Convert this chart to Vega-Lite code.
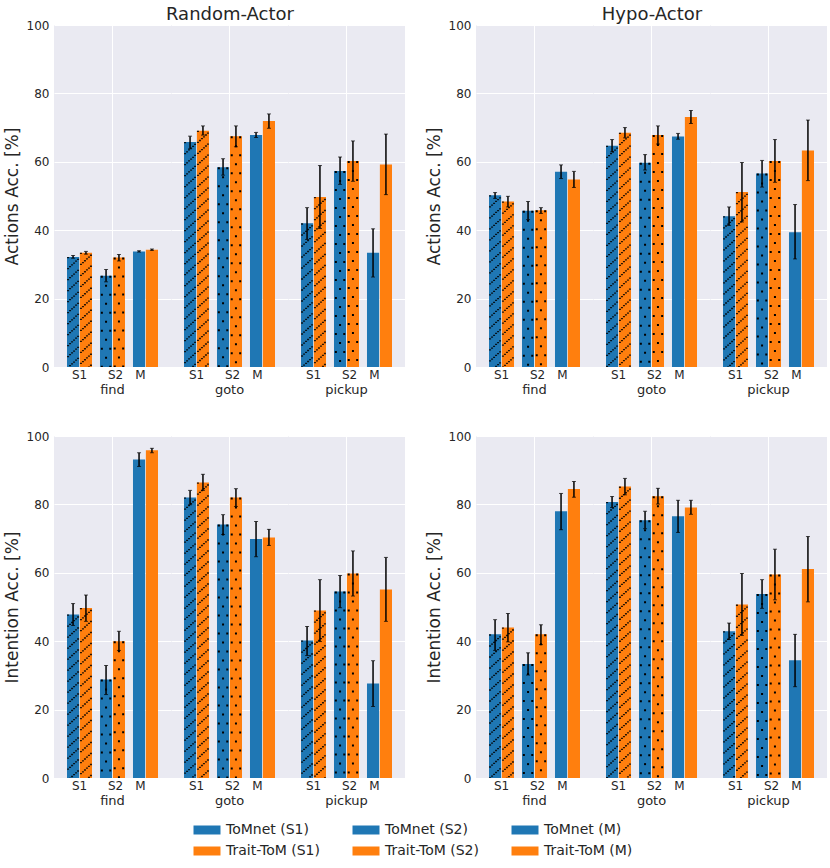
{
  "$schema": "https://vega.github.io/schema/vega-lite/v6.json",
  "padding": {"left": 3, "top": 6, "right": 3, "bottom": 4},
  "background": "white",
  "datasets": {
    "d": [
      {"actor":"Random-Actor","metric":"Actions","task":"find","type":"S1","model":"ToMnet","label":"ToMnet (S1)","v":32.2,"lo":31.8,"hi":32.6},
      {"actor":"Random-Actor","metric":"Actions","task":"find","type":"S1","model":"Trait-ToM","label":"Trait-ToM (S1)","v":33.4,"lo":33.0,"hi":33.8},
      {"actor":"Random-Actor","metric":"Actions","task":"find","type":"S2","model":"ToMnet","label":"ToMnet (S2)","v":26.7,"lo":24.9,"hi":28.5},
      {"actor":"Random-Actor","metric":"Actions","task":"find","type":"S2","model":"Trait-ToM","label":"Trait-ToM (S2)","v":32.0,"lo":31.0,"hi":32.9},
      {"actor":"Random-Actor","metric":"Actions","task":"find","type":"M","model":"ToMnet","label":"ToMnet (M)","v":33.8,"lo":33.6,"hi":34.0},
      {"actor":"Random-Actor","metric":"Actions","task":"find","type":"M","model":"Trait-ToM","label":"Trait-ToM (M)","v":34.3,"lo":34.1,"hi":34.5},
      {"actor":"Random-Actor","metric":"Actions","task":"goto","type":"S1","model":"ToMnet","label":"ToMnet (S1)","v":65.8,"lo":63.8,"hi":67.5},
      {"actor":"Random-Actor","metric":"Actions","task":"goto","type":"S1","model":"Trait-ToM","label":"Trait-ToM (S1)","v":69.1,"lo":67.8,"hi":70.5},
      {"actor":"Random-Actor","metric":"Actions","task":"goto","type":"S2","model":"ToMnet","label":"ToMnet (S2)","v":58.4,"lo":56.1,"hi":60.9},
      {"actor":"Random-Actor","metric":"Actions","task":"goto","type":"S2","model":"Trait-ToM","label":"Trait-ToM (S2)","v":67.5,"lo":64.4,"hi":70.5},
      {"actor":"Random-Actor","metric":"Actions","task":"goto","type":"M","model":"ToMnet","label":"ToMnet (M)","v":67.8,"lo":67.1,"hi":68.6},
      {"actor":"Random-Actor","metric":"Actions","task":"goto","type":"M","model":"Trait-ToM","label":"Trait-ToM (M)","v":71.9,"lo":69.8,"hi":74.0},
      {"actor":"Random-Actor","metric":"Actions","task":"pickup","type":"S1","model":"ToMnet","label":"ToMnet (S1)","v":42.0,"lo":37.3,"hi":46.6},
      {"actor":"Random-Actor","metric":"Actions","task":"pickup","type":"S1","model":"Trait-ToM","label":"Trait-ToM (S1)","v":49.7,"lo":40.5,"hi":58.9},
      {"actor":"Random-Actor","metric":"Actions","task":"pickup","type":"S2","model":"ToMnet","label":"ToMnet (S2)","v":57.3,"lo":53.4,"hi":61.4},
      {"actor":"Random-Actor","metric":"Actions","task":"pickup","type":"S2","model":"Trait-ToM","label":"Trait-ToM (S2)","v":60.2,"lo":54.3,"hi":66.1},
      {"actor":"Random-Actor","metric":"Actions","task":"pickup","type":"M","model":"ToMnet","label":"ToMnet (M)","v":33.4,"lo":26.3,"hi":40.4},
      {"actor":"Random-Actor","metric":"Actions","task":"pickup","type":"M","model":"Trait-ToM","label":"Trait-ToM (M)","v":59.2,"lo":50.4,"hi":68.1},

      {"actor":"Hypo-Actor","metric":"Actions","task":"find","type":"S1","model":"ToMnet","label":"ToMnet (S1)","v":50.2,"lo":49.3,"hi":51.0},
      {"actor":"Hypo-Actor","metric":"Actions","task":"find","type":"S1","model":"Trait-ToM","label":"Trait-ToM (S1)","v":48.4,"lo":46.8,"hi":49.9},
      {"actor":"Hypo-Actor","metric":"Actions","task":"find","type":"S2","model":"ToMnet","label":"ToMnet (S2)","v":45.7,"lo":43.1,"hi":48.4},
      {"actor":"Hypo-Actor","metric":"Actions","task":"find","type":"S2","model":"Trait-ToM","label":"Trait-ToM (S2)","v":45.8,"lo":44.9,"hi":46.6},
      {"actor":"Hypo-Actor","metric":"Actions","task":"find","type":"M","model":"ToMnet","label":"ToMnet (M)","v":57.1,"lo":55.1,"hi":59.1},
      {"actor":"Hypo-Actor","metric":"Actions","task":"find","type":"M","model":"Trait-ToM","label":"Trait-ToM (M)","v":54.8,"lo":52.5,"hi":57.2},
      {"actor":"Hypo-Actor","metric":"Actions","task":"goto","type":"S1","model":"ToMnet","label":"ToMnet (S1)","v":64.7,"lo":62.9,"hi":66.5},
      {"actor":"Hypo-Actor","metric":"Actions","task":"goto","type":"S1","model":"Trait-ToM","label":"Trait-ToM (S1)","v":68.5,"lo":67.0,"hi":70.0},
      {"actor":"Hypo-Actor","metric":"Actions","task":"goto","type":"S2","model":"ToMnet","label":"ToMnet (S2)","v":59.7,"lo":57.6,"hi":62.1},
      {"actor":"Hypo-Actor","metric":"Actions","task":"goto","type":"S2","model":"Trait-ToM","label":"Trait-ToM (S2)","v":67.8,"lo":65.2,"hi":70.5},
      {"actor":"Hypo-Actor","metric":"Actions","task":"goto","type":"M","model":"ToMnet","label":"ToMnet (M)","v":67.4,"lo":66.6,"hi":68.3},
      {"actor":"Hypo-Actor","metric":"Actions","task":"goto","type":"M","model":"Trait-ToM","label":"Trait-ToM (M)","v":73.1,"lo":71.2,"hi":75.0},
      {"actor":"Hypo-Actor","metric":"Actions","task":"pickup","type":"S1","model":"ToMnet","label":"ToMnet (S1)","v":44.1,"lo":41.4,"hi":46.8},
      {"actor":"Hypo-Actor","metric":"Actions","task":"pickup","type":"S1","model":"Trait-ToM","label":"Trait-ToM (S1)","v":51.2,"lo":42.4,"hi":59.8},
      {"actor":"Hypo-Actor","metric":"Actions","task":"pickup","type":"S2","model":"ToMnet","label":"ToMnet (S2)","v":56.6,"lo":52.6,"hi":60.4},
      {"actor":"Hypo-Actor","metric":"Actions","task":"pickup","type":"S2","model":"Trait-ToM","label":"Trait-ToM (S2)","v":60.2,"lo":54.0,"hi":66.5},
      {"actor":"Hypo-Actor","metric":"Actions","task":"pickup","type":"M","model":"ToMnet","label":"ToMnet (M)","v":39.4,"lo":31.6,"hi":47.5},
      {"actor":"Hypo-Actor","metric":"Actions","task":"pickup","type":"M","model":"Trait-ToM","label":"Trait-ToM (M)","v":63.3,"lo":54.5,"hi":72.2},

      {"actor":"Random-Actor","metric":"Intention","task":"find","type":"S1","model":"ToMnet","label":"ToMnet (S1)","v":47.8,"lo":44.6,"hi":51.0},
      {"actor":"Random-Actor","metric":"Intention","task":"find","type":"S1","model":"Trait-ToM","label":"Trait-ToM (S1)","v":49.7,"lo":45.8,"hi":53.5},
      {"actor":"Random-Actor","metric":"Intention","task":"find","type":"S2","model":"ToMnet","label":"ToMnet (S2)","v":28.8,"lo":24.4,"hi":32.9},
      {"actor":"Random-Actor","metric":"Intention","task":"find","type":"S2","model":"Trait-ToM","label":"Trait-ToM (S2)","v":40.0,"lo":37.3,"hi":42.9},
      {"actor":"Random-Actor","metric":"Intention","task":"find","type":"M","model":"ToMnet","label":"ToMnet (M)","v":93.1,"lo":91.1,"hi":95.1},
      {"actor":"Random-Actor","metric":"Intention","task":"find","type":"M","model":"Trait-ToM","label":"Trait-ToM (M)","v":95.8,"lo":95.1,"hi":96.4},
      {"actor":"Random-Actor","metric":"Intention","task":"goto","type":"S1","model":"ToMnet","label":"ToMnet (S1)","v":82.0,"lo":79.9,"hi":84.1},
      {"actor":"Random-Actor","metric":"Intention","task":"goto","type":"S1","model":"Trait-ToM","label":"Trait-ToM (S1)","v":86.4,"lo":84.1,"hi":88.8},
      {"actor":"Random-Actor","metric":"Intention","task":"goto","type":"S2","model":"ToMnet","label":"ToMnet (S2)","v":74.1,"lo":71.2,"hi":77.0},
      {"actor":"Random-Actor","metric":"Intention","task":"goto","type":"S2","model":"Trait-ToM","label":"Trait-ToM (S2)","v":82.0,"lo":79.4,"hi":84.6},
      {"actor":"Random-Actor","metric":"Intention","task":"goto","type":"M","model":"ToMnet","label":"ToMnet (M)","v":69.9,"lo":64.7,"hi":75.0},
      {"actor":"Random-Actor","metric":"Intention","task":"goto","type":"M","model":"Trait-ToM","label":"Trait-ToM (M)","v":70.3,"lo":68.0,"hi":72.7},
      {"actor":"Random-Actor","metric":"Intention","task":"pickup","type":"S1","model":"ToMnet","label":"ToMnet (S1)","v":40.2,"lo":35.8,"hi":44.3},
      {"actor":"Random-Actor","metric":"Intention","task":"pickup","type":"S1","model":"Trait-ToM","label":"Trait-ToM (S1)","v":49.0,"lo":39.9,"hi":58.0},
      {"actor":"Random-Actor","metric":"Intention","task":"pickup","type":"S2","model":"ToMnet","label":"ToMnet (S2)","v":54.5,"lo":49.8,"hi":59.2},
      {"actor":"Random-Actor","metric":"Intention","task":"pickup","type":"S2","model":"Trait-ToM","label":"Trait-ToM (S2)","v":59.8,"lo":53.2,"hi":66.4},
      {"actor":"Random-Actor","metric":"Intention","task":"pickup","type":"M","model":"ToMnet","label":"ToMnet (M)","v":27.6,"lo":20.9,"hi":34.3},
      {"actor":"Random-Actor","metric":"Intention","task":"pickup","type":"M","model":"Trait-ToM","label":"Trait-ToM (M)","v":55.1,"lo":45.8,"hi":64.5},

      {"actor":"Hypo-Actor","metric":"Intention","task":"find","type":"S1","model":"ToMnet","label":"ToMnet (S1)","v":42.0,"lo":37.3,"hi":46.3},
      {"actor":"Hypo-Actor","metric":"Intention","task":"find","type":"S1","model":"Trait-ToM","label":"Trait-ToM (S1)","v":44.0,"lo":39.8,"hi":48.1},
      {"actor":"Hypo-Actor","metric":"Intention","task":"find","type":"S2","model":"ToMnet","label":"ToMnet (S2)","v":33.3,"lo":30.1,"hi":36.6},
      {"actor":"Hypo-Actor","metric":"Intention","task":"find","type":"S2","model":"Trait-ToM","label":"Trait-ToM (S2)","v":42.0,"lo":39.0,"hi":44.8},
      {"actor":"Hypo-Actor","metric":"Intention","task":"find","type":"M","model":"ToMnet","label":"ToMnet (M)","v":78.0,"lo":72.6,"hi":83.2},
      {"actor":"Hypo-Actor","metric":"Intention","task":"find","type":"M","model":"Trait-ToM","label":"Trait-ToM (M)","v":84.5,"lo":82.1,"hi":86.7},
      {"actor":"Hypo-Actor","metric":"Intention","task":"goto","type":"S1","model":"ToMnet","label":"ToMnet (S1)","v":80.7,"lo":79.1,"hi":82.3},
      {"actor":"Hypo-Actor","metric":"Intention","task":"goto","type":"S1","model":"Trait-ToM","label":"Trait-ToM (S1)","v":85.2,"lo":82.8,"hi":87.6},
      {"actor":"Hypo-Actor","metric":"Intention","task":"goto","type":"S2","model":"ToMnet","label":"ToMnet (S2)","v":75.4,"lo":72.9,"hi":78.0},
      {"actor":"Hypo-Actor","metric":"Intention","task":"goto","type":"S2","model":"Trait-ToM","label":"Trait-ToM (S2)","v":82.4,"lo":80.1,"hi":84.7},
      {"actor":"Hypo-Actor","metric":"Intention","task":"goto","type":"M","model":"ToMnet","label":"ToMnet (M)","v":76.5,"lo":71.8,"hi":81.2},
      {"actor":"Hypo-Actor","metric":"Intention","task":"goto","type":"M","model":"Trait-ToM","label":"Trait-ToM (M)","v":79.1,"lo":77.1,"hi":81.2},
      {"actor":"Hypo-Actor","metric":"Intention","task":"pickup","type":"S1","model":"ToMnet","label":"ToMnet (S1)","v":42.9,"lo":40.5,"hi":45.3},
      {"actor":"Hypo-Actor","metric":"Intention","task":"pickup","type":"S1","model":"Trait-ToM","label":"Trait-ToM (S1)","v":50.7,"lo":41.7,"hi":59.8},
      {"actor":"Hypo-Actor","metric":"Intention","task":"pickup","type":"S2","model":"ToMnet","label":"ToMnet (S2)","v":53.8,"lo":49.6,"hi":58.0},
      {"actor":"Hypo-Actor","metric":"Intention","task":"pickup","type":"S2","model":"Trait-ToM","label":"Trait-ToM (S2)","v":59.5,"lo":52.1,"hi":66.9},
      {"actor":"Hypo-Actor","metric":"Intention","task":"pickup","type":"M","model":"ToMnet","label":"ToMnet (M)","v":34.4,"lo":26.7,"hi":42.0},
      {"actor":"Hypo-Actor","metric":"Intention","task":"pickup","type":"M","model":"Trait-ToM","label":"Trait-ToM (M)","v":61.1,"lo":51.5,"hi":70.6}
    ]
  },
  "spacing": 33,
  "vconcat": [
    {
      "spacing": 20,
      "hconcat": [
        {
          "data": {"name": "d"},
          "transform": [{"filter": "datum.actor === 'Random-Actor' && datum.metric === 'Actions'"}],
          "facet": {"column": {"field": "task", "type": "nominal", "sort": ["find", "goto", "pickup"], "header": {"title": "Random-Actor", "titleOrient": "top", "labelOrient": "bottom"}}},
          "spacing": 0,
          "spec": {
            "width": 117, "height": 342,
            "encoding": {
              "x": {"field": "type", "type": "nominal", "scale": {"domain": ["S1", "S2", "M"], "paddingInner": 0.242, "paddingOuter": 0.394}, "axis": {"title": null, "grid": true, "bandPosition": 0.5, "gridOpacity": {"condition": {"test": "datum.value === 'S2'", "value": 1}, "value": 0}, "labelOffset": {"condition": [{"test": "datum.value === 'S2'", "value": 3}, {"test": "datum.value === 'M'", "value": -5}], "value": 0}}},
              "xOffset": {"field": "model", "type": "nominal", "scale": {"domain": ["ToMnet", "Trait-ToM"], "paddingInner": 0.06}}
            },
            "resolve": {"scale": {"xOffset": "independent"}},
            "layer": [
              {"mark": {"type": "bar"}, "encoding": {
                "y": {"field": "v", "type": "quantitative", "scale": {"domain": [0, 100]}, "axis": {"title": "Actions Acc. [%]"}},
                "color": {"field": "label", "type": "nominal", "scale": {"domain": ["ToMnet (S1)", "ToMnet (S2)", "ToMnet (M)", "Trait-ToM (S1)", "Trait-ToM (S2)", "Trait-ToM (M)"], "range": ["#1f77b4", "#1f77b4", "#1f77b4", "#ff7f0e", "#ff7f0e", "#ff7f0e"]}, "legend": {"title": null}}}},
              {"transform": [{"filter": "datum.type === 'S1'"}], "mark": {"type": "rule", "strokeWidth": 2, "strokeDash": [1.3, 9.7], "strokeDashOffset": 0, "color": "#000", "opacity": 0.85}, "encoding": {"xOffset": {"field": "model", "type": "nominal", "scale": {"domain": ["ToMnet", "Trait-ToM"], "paddingInner": 0.96, "paddingOuter": 0.45, "align": 0.069}}, "y": {"field": "v", "type": "quantitative"}, "y2": {"datum": 0}}},
              {"transform": [{"filter": "datum.type === 'S1'"}], "mark": {"type": "rule", "strokeWidth": 2, "strokeDash": [1.3, 9.7], "strokeDashOffset": 1.83, "color": "#000", "opacity": 0.85}, "encoding": {"xOffset": {"field": "model", "type": "nominal", "scale": {"domain": ["ToMnet", "Trait-ToM"], "paddingInner": 0.96, "paddingOuter": 0.45, "align": 0.241}}, "y": {"field": "v", "type": "quantitative"}, "y2": {"datum": 0}}},
              {"transform": [{"filter": "datum.type === 'S1'"}], "mark": {"type": "rule", "strokeWidth": 2, "strokeDash": [1.3, 9.7], "strokeDashOffset": 3.67, "color": "#000", "opacity": 0.85}, "encoding": {"xOffset": {"field": "model", "type": "nominal", "scale": {"domain": ["ToMnet", "Trait-ToM"], "paddingInner": 0.96, "paddingOuter": 0.45, "align": 0.414}}, "y": {"field": "v", "type": "quantitative"}, "y2": {"datum": 0}}},
              {"transform": [{"filter": "datum.type === 'S1'"}], "mark": {"type": "rule", "strokeWidth": 2, "strokeDash": [1.3, 9.7], "strokeDashOffset": 5.5, "color": "#000", "opacity": 0.85}, "encoding": {"xOffset": {"field": "model", "type": "nominal", "scale": {"domain": ["ToMnet", "Trait-ToM"], "paddingInner": 0.96, "paddingOuter": 0.45, "align": 0.586}}, "y": {"field": "v", "type": "quantitative"}, "y2": {"datum": 0}}},
              {"transform": [{"filter": "datum.type === 'S1'"}], "mark": {"type": "rule", "strokeWidth": 2, "strokeDash": [1.3, 9.7], "strokeDashOffset": 7.33, "color": "#000", "opacity": 0.85}, "encoding": {"xOffset": {"field": "model", "type": "nominal", "scale": {"domain": ["ToMnet", "Trait-ToM"], "paddingInner": 0.96, "paddingOuter": 0.45, "align": 0.759}}, "y": {"field": "v", "type": "quantitative"}, "y2": {"datum": 0}}},
              {"transform": [{"filter": "datum.type === 'S1'"}], "mark": {"type": "rule", "strokeWidth": 2, "strokeDash": [1.3, 9.7], "strokeDashOffset": 9.17, "color": "#000", "opacity": 0.85}, "encoding": {"xOffset": {"field": "model", "type": "nominal", "scale": {"domain": ["ToMnet", "Trait-ToM"], "paddingInner": 0.96, "paddingOuter": 0.45, "align": 0.931}}, "y": {"field": "v", "type": "quantitative"}, "y2": {"datum": 0}}},
              {"transform": [{"filter": "datum.type === 'S2'"}], "mark": {"type": "rule", "strokeWidth": 2, "strokeDash": [2, 16], "strokeDashOffset": 0, "color": "#000"}, "encoding": {"xOffset": {"field": "model", "type": "nominal", "scale": {"domain": ["ToMnet", "Trait-ToM"], "paddingInner": 0.96, "paddingOuter": 0.45, "align": 0.138}}, "y": {"field": "v", "type": "quantitative"}, "y2": {"datum": 0}}},
              {"transform": [{"filter": "datum.type === 'S2'"}], "mark": {"type": "rule", "strokeWidth": 2, "strokeDash": [2, 16], "strokeDashOffset": 0, "color": "#000"}, "encoding": {"xOffset": {"field": "model", "type": "nominal", "scale": {"domain": ["ToMnet", "Trait-ToM"], "paddingInner": 0.96, "paddingOuter": 0.45, "align": 0.862}}, "y": {"field": "v", "type": "quantitative"}, "y2": {"datum": 0}}},
              {"transform": [{"filter": "datum.type === 'S2'"}], "mark": {"type": "rule", "strokeWidth": 2, "strokeDash": [2, 16], "strokeDashOffset": 9, "color": "#000"}, "encoding": {"xOffset": {"field": "model", "type": "nominal", "scale": {"domain": ["ToMnet", "Trait-ToM"], "paddingInner": 0.96, "paddingOuter": 0.45, "align": 0.5}}, "y": {"field": "v", "type": "quantitative"}, "y2": {"datum": 0}}},
              {"mark": {"type": "rule", "color": "#000", "strokeWidth": 1.5}, "encoding": {"y": {"field": "lo", "type": "quantitative"}, "y2": {"field": "hi"}}},
              {"mark": {"type": "tick", "orient": "horizontal", "color": "#000", "size": 4, "thickness": 1}, "encoding": {"y": {"field": "lo", "type": "quantitative"}}},
              {"mark": {"type": "tick", "orient": "horizontal", "color": "#000", "size": 4, "thickness": 1}, "encoding": {"y": {"field": "hi", "type": "quantitative"}}}
            ]
          }
        },
        {
          "data": {"name": "d"},
          "transform": [{"filter": "datum.actor === 'Hypo-Actor' && datum.metric === 'Actions'"}],
          "facet": {"column": {"field": "task", "type": "nominal", "sort": ["find", "goto", "pickup"], "header": {"title": "Hypo-Actor", "titleOrient": "top", "labelOrient": "bottom"}}},
          "spacing": 0,
          "spec": {
            "width": 117, "height": 342,
            "encoding": {
              "x": {"field": "type", "type": "nominal", "scale": {"domain": ["S1", "S2", "M"], "paddingInner": 0.242, "paddingOuter": 0.394}, "axis": {"title": null, "grid": true, "bandPosition": 0.5, "gridOpacity": {"condition": {"test": "datum.value === 'S2'", "value": 1}, "value": 0}, "labelOffset": {"condition": [{"test": "datum.value === 'S2'", "value": 3}, {"test": "datum.value === 'M'", "value": -5}], "value": 0}}},
              "xOffset": {"field": "model", "type": "nominal", "scale": {"domain": ["ToMnet", "Trait-ToM"], "paddingInner": 0.06}}
            },
            "resolve": {"scale": {"xOffset": "independent"}},
            "layer": [
              {"mark": {"type": "bar"}, "encoding": {
                "y": {"field": "v", "type": "quantitative", "scale": {"domain": [0, 100]}, "axis": {"title": "Actions Acc. [%]"}},
                "color": {"field": "label", "type": "nominal", "scale": {"domain": ["ToMnet (S1)", "ToMnet (S2)", "ToMnet (M)", "Trait-ToM (S1)", "Trait-ToM (S2)", "Trait-ToM (M)"], "range": ["#1f77b4", "#1f77b4", "#1f77b4", "#ff7f0e", "#ff7f0e", "#ff7f0e"]}, "legend": {"title": null}}}},
              {"transform": [{"filter": "datum.type === 'S1'"}], "mark": {"type": "rule", "strokeWidth": 2, "strokeDash": [1.3, 9.7], "strokeDashOffset": 0, "color": "#000", "opacity": 0.85}, "encoding": {"xOffset": {"field": "model", "type": "nominal", "scale": {"domain": ["ToMnet", "Trait-ToM"], "paddingInner": 0.96, "paddingOuter": 0.45, "align": 0.069}}, "y": {"field": "v", "type": "quantitative"}, "y2": {"datum": 0}}},
              {"transform": [{"filter": "datum.type === 'S1'"}], "mark": {"type": "rule", "strokeWidth": 2, "strokeDash": [1.3, 9.7], "strokeDashOffset": 1.83, "color": "#000", "opacity": 0.85}, "encoding": {"xOffset": {"field": "model", "type": "nominal", "scale": {"domain": ["ToMnet", "Trait-ToM"], "paddingInner": 0.96, "paddingOuter": 0.45, "align": 0.241}}, "y": {"field": "v", "type": "quantitative"}, "y2": {"datum": 0}}},
              {"transform": [{"filter": "datum.type === 'S1'"}], "mark": {"type": "rule", "strokeWidth": 2, "strokeDash": [1.3, 9.7], "strokeDashOffset": 3.67, "color": "#000", "opacity": 0.85}, "encoding": {"xOffset": {"field": "model", "type": "nominal", "scale": {"domain": ["ToMnet", "Trait-ToM"], "paddingInner": 0.96, "paddingOuter": 0.45, "align": 0.414}}, "y": {"field": "v", "type": "quantitative"}, "y2": {"datum": 0}}},
              {"transform": [{"filter": "datum.type === 'S1'"}], "mark": {"type": "rule", "strokeWidth": 2, "strokeDash": [1.3, 9.7], "strokeDashOffset": 5.5, "color": "#000", "opacity": 0.85}, "encoding": {"xOffset": {"field": "model", "type": "nominal", "scale": {"domain": ["ToMnet", "Trait-ToM"], "paddingInner": 0.96, "paddingOuter": 0.45, "align": 0.586}}, "y": {"field": "v", "type": "quantitative"}, "y2": {"datum": 0}}},
              {"transform": [{"filter": "datum.type === 'S1'"}], "mark": {"type": "rule", "strokeWidth": 2, "strokeDash": [1.3, 9.7], "strokeDashOffset": 7.33, "color": "#000", "opacity": 0.85}, "encoding": {"xOffset": {"field": "model", "type": "nominal", "scale": {"domain": ["ToMnet", "Trait-ToM"], "paddingInner": 0.96, "paddingOuter": 0.45, "align": 0.759}}, "y": {"field": "v", "type": "quantitative"}, "y2": {"datum": 0}}},
              {"transform": [{"filter": "datum.type === 'S1'"}], "mark": {"type": "rule", "strokeWidth": 2, "strokeDash": [1.3, 9.7], "strokeDashOffset": 9.17, "color": "#000", "opacity": 0.85}, "encoding": {"xOffset": {"field": "model", "type": "nominal", "scale": {"domain": ["ToMnet", "Trait-ToM"], "paddingInner": 0.96, "paddingOuter": 0.45, "align": 0.931}}, "y": {"field": "v", "type": "quantitative"}, "y2": {"datum": 0}}},
              {"transform": [{"filter": "datum.type === 'S2'"}], "mark": {"type": "rule", "strokeWidth": 2, "strokeDash": [2, 16], "strokeDashOffset": 0, "color": "#000"}, "encoding": {"xOffset": {"field": "model", "type": "nominal", "scale": {"domain": ["ToMnet", "Trait-ToM"], "paddingInner": 0.96, "paddingOuter": 0.45, "align": 0.138}}, "y": {"field": "v", "type": "quantitative"}, "y2": {"datum": 0}}},
              {"transform": [{"filter": "datum.type === 'S2'"}], "mark": {"type": "rule", "strokeWidth": 2, "strokeDash": [2, 16], "strokeDashOffset": 0, "color": "#000"}, "encoding": {"xOffset": {"field": "model", "type": "nominal", "scale": {"domain": ["ToMnet", "Trait-ToM"], "paddingInner": 0.96, "paddingOuter": 0.45, "align": 0.862}}, "y": {"field": "v", "type": "quantitative"}, "y2": {"datum": 0}}},
              {"transform": [{"filter": "datum.type === 'S2'"}], "mark": {"type": "rule", "strokeWidth": 2, "strokeDash": [2, 16], "strokeDashOffset": 9, "color": "#000"}, "encoding": {"xOffset": {"field": "model", "type": "nominal", "scale": {"domain": ["ToMnet", "Trait-ToM"], "paddingInner": 0.96, "paddingOuter": 0.45, "align": 0.5}}, "y": {"field": "v", "type": "quantitative"}, "y2": {"datum": 0}}},
              {"mark": {"type": "rule", "color": "#000", "strokeWidth": 1.5}, "encoding": {"y": {"field": "lo", "type": "quantitative"}, "y2": {"field": "hi"}}},
              {"mark": {"type": "tick", "orient": "horizontal", "color": "#000", "size": 4, "thickness": 1}, "encoding": {"y": {"field": "lo", "type": "quantitative"}}},
              {"mark": {"type": "tick", "orient": "horizontal", "color": "#000", "size": 4, "thickness": 1}, "encoding": {"y": {"field": "hi", "type": "quantitative"}}}
            ]
          }
        }
      ]
    },
    {
      "spacing": 20,
      "hconcat": [
        {
          "data": {"name": "d"},
          "transform": [{"filter": "datum.actor === 'Random-Actor' && datum.metric === 'Intention'"}],
          "facet": {"column": {"field": "task", "type": "nominal", "sort": ["find", "goto", "pickup"], "header": {"title": null, "labelOrient": "bottom"}}},
          "spacing": 0,
          "spec": {
            "width": 117, "height": 342,
            "encoding": {
              "x": {"field": "type", "type": "nominal", "scale": {"domain": ["S1", "S2", "M"], "paddingInner": 0.242, "paddingOuter": 0.394}, "axis": {"title": null, "grid": true, "bandPosition": 0.5, "gridOpacity": {"condition": {"test": "datum.value === 'S2'", "value": 1}, "value": 0}, "labelOffset": {"condition": [{"test": "datum.value === 'S2'", "value": 3}, {"test": "datum.value === 'M'", "value": -5}], "value": 0}}},
              "xOffset": {"field": "model", "type": "nominal", "scale": {"domain": ["ToMnet", "Trait-ToM"], "paddingInner": 0.06}}
            },
            "resolve": {"scale": {"xOffset": "independent"}},
            "layer": [
              {"mark": {"type": "bar"}, "encoding": {
                "y": {"field": "v", "type": "quantitative", "scale": {"domain": [0, 100]}, "axis": {"title": "Intention Acc. [%]"}},
                "color": {"field": "label", "type": "nominal", "scale": {"domain": ["ToMnet (S1)", "ToMnet (S2)", "ToMnet (M)", "Trait-ToM (S1)", "Trait-ToM (S2)", "Trait-ToM (M)"], "range": ["#1f77b4", "#1f77b4", "#1f77b4", "#ff7f0e", "#ff7f0e", "#ff7f0e"]}, "legend": {"title": null}}}},
              {"transform": [{"filter": "datum.type === 'S1'"}], "mark": {"type": "rule", "strokeWidth": 2, "strokeDash": [1.3, 9.7], "strokeDashOffset": 0, "color": "#000", "opacity": 0.85}, "encoding": {"xOffset": {"field": "model", "type": "nominal", "scale": {"domain": ["ToMnet", "Trait-ToM"], "paddingInner": 0.96, "paddingOuter": 0.45, "align": 0.069}}, "y": {"field": "v", "type": "quantitative"}, "y2": {"datum": 0}}},
              {"transform": [{"filter": "datum.type === 'S1'"}], "mark": {"type": "rule", "strokeWidth": 2, "strokeDash": [1.3, 9.7], "strokeDashOffset": 1.83, "color": "#000", "opacity": 0.85}, "encoding": {"xOffset": {"field": "model", "type": "nominal", "scale": {"domain": ["ToMnet", "Trait-ToM"], "paddingInner": 0.96, "paddingOuter": 0.45, "align": 0.241}}, "y": {"field": "v", "type": "quantitative"}, "y2": {"datum": 0}}},
              {"transform": [{"filter": "datum.type === 'S1'"}], "mark": {"type": "rule", "strokeWidth": 2, "strokeDash": [1.3, 9.7], "strokeDashOffset": 3.67, "color": "#000", "opacity": 0.85}, "encoding": {"xOffset": {"field": "model", "type": "nominal", "scale": {"domain": ["ToMnet", "Trait-ToM"], "paddingInner": 0.96, "paddingOuter": 0.45, "align": 0.414}}, "y": {"field": "v", "type": "quantitative"}, "y2": {"datum": 0}}},
              {"transform": [{"filter": "datum.type === 'S1'"}], "mark": {"type": "rule", "strokeWidth": 2, "strokeDash": [1.3, 9.7], "strokeDashOffset": 5.5, "color": "#000", "opacity": 0.85}, "encoding": {"xOffset": {"field": "model", "type": "nominal", "scale": {"domain": ["ToMnet", "Trait-ToM"], "paddingInner": 0.96, "paddingOuter": 0.45, "align": 0.586}}, "y": {"field": "v", "type": "quantitative"}, "y2": {"datum": 0}}},
              {"transform": [{"filter": "datum.type === 'S1'"}], "mark": {"type": "rule", "strokeWidth": 2, "strokeDash": [1.3, 9.7], "strokeDashOffset": 7.33, "color": "#000", "opacity": 0.85}, "encoding": {"xOffset": {"field": "model", "type": "nominal", "scale": {"domain": ["ToMnet", "Trait-ToM"], "paddingInner": 0.96, "paddingOuter": 0.45, "align": 0.759}}, "y": {"field": "v", "type": "quantitative"}, "y2": {"datum": 0}}},
              {"transform": [{"filter": "datum.type === 'S1'"}], "mark": {"type": "rule", "strokeWidth": 2, "strokeDash": [1.3, 9.7], "strokeDashOffset": 9.17, "color": "#000", "opacity": 0.85}, "encoding": {"xOffset": {"field": "model", "type": "nominal", "scale": {"domain": ["ToMnet", "Trait-ToM"], "paddingInner": 0.96, "paddingOuter": 0.45, "align": 0.931}}, "y": {"field": "v", "type": "quantitative"}, "y2": {"datum": 0}}},
              {"transform": [{"filter": "datum.type === 'S2'"}], "mark": {"type": "rule", "strokeWidth": 2, "strokeDash": [2, 16], "strokeDashOffset": 0, "color": "#000"}, "encoding": {"xOffset": {"field": "model", "type": "nominal", "scale": {"domain": ["ToMnet", "Trait-ToM"], "paddingInner": 0.96, "paddingOuter": 0.45, "align": 0.138}}, "y": {"field": "v", "type": "quantitative"}, "y2": {"datum": 0}}},
              {"transform": [{"filter": "datum.type === 'S2'"}], "mark": {"type": "rule", "strokeWidth": 2, "strokeDash": [2, 16], "strokeDashOffset": 0, "color": "#000"}, "encoding": {"xOffset": {"field": "model", "type": "nominal", "scale": {"domain": ["ToMnet", "Trait-ToM"], "paddingInner": 0.96, "paddingOuter": 0.45, "align": 0.862}}, "y": {"field": "v", "type": "quantitative"}, "y2": {"datum": 0}}},
              {"transform": [{"filter": "datum.type === 'S2'"}], "mark": {"type": "rule", "strokeWidth": 2, "strokeDash": [2, 16], "strokeDashOffset": 9, "color": "#000"}, "encoding": {"xOffset": {"field": "model", "type": "nominal", "scale": {"domain": ["ToMnet", "Trait-ToM"], "paddingInner": 0.96, "paddingOuter": 0.45, "align": 0.5}}, "y": {"field": "v", "type": "quantitative"}, "y2": {"datum": 0}}},
              {"mark": {"type": "rule", "color": "#000", "strokeWidth": 1.5}, "encoding": {"y": {"field": "lo", "type": "quantitative"}, "y2": {"field": "hi"}}},
              {"mark": {"type": "tick", "orient": "horizontal", "color": "#000", "size": 4, "thickness": 1}, "encoding": {"y": {"field": "lo", "type": "quantitative"}}},
              {"mark": {"type": "tick", "orient": "horizontal", "color": "#000", "size": 4, "thickness": 1}, "encoding": {"y": {"field": "hi", "type": "quantitative"}}}
            ]
          }
        },
        {
          "data": {"name": "d"},
          "transform": [{"filter": "datum.actor === 'Hypo-Actor' && datum.metric === 'Intention'"}],
          "facet": {"column": {"field": "task", "type": "nominal", "sort": ["find", "goto", "pickup"], "header": {"title": null, "labelOrient": "bottom"}}},
          "spacing": 0,
          "spec": {
            "width": 117, "height": 342,
            "encoding": {
              "x": {"field": "type", "type": "nominal", "scale": {"domain": ["S1", "S2", "M"], "paddingInner": 0.242, "paddingOuter": 0.394}, "axis": {"title": null, "grid": true, "bandPosition": 0.5, "gridOpacity": {"condition": {"test": "datum.value === 'S2'", "value": 1}, "value": 0}, "labelOffset": {"condition": [{"test": "datum.value === 'S2'", "value": 3}, {"test": "datum.value === 'M'", "value": -5}], "value": 0}}},
              "xOffset": {"field": "model", "type": "nominal", "scale": {"domain": ["ToMnet", "Trait-ToM"], "paddingInner": 0.06}}
            },
            "resolve": {"scale": {"xOffset": "independent"}},
            "layer": [
              {"mark": {"type": "bar"}, "encoding": {
                "y": {"field": "v", "type": "quantitative", "scale": {"domain": [0, 100]}, "axis": {"title": "Intention Acc. [%]"}},
                "color": {"field": "label", "type": "nominal", "scale": {"domain": ["ToMnet (S1)", "ToMnet (S2)", "ToMnet (M)", "Trait-ToM (S1)", "Trait-ToM (S2)", "Trait-ToM (M)"], "range": ["#1f77b4", "#1f77b4", "#1f77b4", "#ff7f0e", "#ff7f0e", "#ff7f0e"]}, "legend": {"title": null}}}},
              {"transform": [{"filter": "datum.type === 'S1'"}], "mark": {"type": "rule", "strokeWidth": 2, "strokeDash": [1.3, 9.7], "strokeDashOffset": 0, "color": "#000", "opacity": 0.85}, "encoding": {"xOffset": {"field": "model", "type": "nominal", "scale": {"domain": ["ToMnet", "Trait-ToM"], "paddingInner": 0.96, "paddingOuter": 0.45, "align": 0.069}}, "y": {"field": "v", "type": "quantitative"}, "y2": {"datum": 0}}},
              {"transform": [{"filter": "datum.type === 'S1'"}], "mark": {"type": "rule", "strokeWidth": 2, "strokeDash": [1.3, 9.7], "strokeDashOffset": 1.83, "color": "#000", "opacity": 0.85}, "encoding": {"xOffset": {"field": "model", "type": "nominal", "scale": {"domain": ["ToMnet", "Trait-ToM"], "paddingInner": 0.96, "paddingOuter": 0.45, "align": 0.241}}, "y": {"field": "v", "type": "quantitative"}, "y2": {"datum": 0}}},
              {"transform": [{"filter": "datum.type === 'S1'"}], "mark": {"type": "rule", "strokeWidth": 2, "strokeDash": [1.3, 9.7], "strokeDashOffset": 3.67, "color": "#000", "opacity": 0.85}, "encoding": {"xOffset": {"field": "model", "type": "nominal", "scale": {"domain": ["ToMnet", "Trait-ToM"], "paddingInner": 0.96, "paddingOuter": 0.45, "align": 0.414}}, "y": {"field": "v", "type": "quantitative"}, "y2": {"datum": 0}}},
              {"transform": [{"filter": "datum.type === 'S1'"}], "mark": {"type": "rule", "strokeWidth": 2, "strokeDash": [1.3, 9.7], "strokeDashOffset": 5.5, "color": "#000", "opacity": 0.85}, "encoding": {"xOffset": {"field": "model", "type": "nominal", "scale": {"domain": ["ToMnet", "Trait-ToM"], "paddingInner": 0.96, "paddingOuter": 0.45, "align": 0.586}}, "y": {"field": "v", "type": "quantitative"}, "y2": {"datum": 0}}},
              {"transform": [{"filter": "datum.type === 'S1'"}], "mark": {"type": "rule", "strokeWidth": 2, "strokeDash": [1.3, 9.7], "strokeDashOffset": 7.33, "color": "#000", "opacity": 0.85}, "encoding": {"xOffset": {"field": "model", "type": "nominal", "scale": {"domain": ["ToMnet", "Trait-ToM"], "paddingInner": 0.96, "paddingOuter": 0.45, "align": 0.759}}, "y": {"field": "v", "type": "quantitative"}, "y2": {"datum": 0}}},
              {"transform": [{"filter": "datum.type === 'S1'"}], "mark": {"type": "rule", "strokeWidth": 2, "strokeDash": [1.3, 9.7], "strokeDashOffset": 9.17, "color": "#000", "opacity": 0.85}, "encoding": {"xOffset": {"field": "model", "type": "nominal", "scale": {"domain": ["ToMnet", "Trait-ToM"], "paddingInner": 0.96, "paddingOuter": 0.45, "align": 0.931}}, "y": {"field": "v", "type": "quantitative"}, "y2": {"datum": 0}}},
              {"transform": [{"filter": "datum.type === 'S2'"}], "mark": {"type": "rule", "strokeWidth": 2, "strokeDash": [2, 16], "strokeDashOffset": 0, "color": "#000"}, "encoding": {"xOffset": {"field": "model", "type": "nominal", "scale": {"domain": ["ToMnet", "Trait-ToM"], "paddingInner": 0.96, "paddingOuter": 0.45, "align": 0.138}}, "y": {"field": "v", "type": "quantitative"}, "y2": {"datum": 0}}},
              {"transform": [{"filter": "datum.type === 'S2'"}], "mark": {"type": "rule", "strokeWidth": 2, "strokeDash": [2, 16], "strokeDashOffset": 0, "color": "#000"}, "encoding": {"xOffset": {"field": "model", "type": "nominal", "scale": {"domain": ["ToMnet", "Trait-ToM"], "paddingInner": 0.96, "paddingOuter": 0.45, "align": 0.862}}, "y": {"field": "v", "type": "quantitative"}, "y2": {"datum": 0}}},
              {"transform": [{"filter": "datum.type === 'S2'"}], "mark": {"type": "rule", "strokeWidth": 2, "strokeDash": [2, 16], "strokeDashOffset": 9, "color": "#000"}, "encoding": {"xOffset": {"field": "model", "type": "nominal", "scale": {"domain": ["ToMnet", "Trait-ToM"], "paddingInner": 0.96, "paddingOuter": 0.45, "align": 0.5}}, "y": {"field": "v", "type": "quantitative"}, "y2": {"datum": 0}}},
              {"mark": {"type": "rule", "color": "#000", "strokeWidth": 1.5}, "encoding": {"y": {"field": "lo", "type": "quantitative"}, "y2": {"field": "hi"}}},
              {"mark": {"type": "tick", "orient": "horizontal", "color": "#000", "size": 4, "thickness": 1}, "encoding": {"y": {"field": "lo", "type": "quantitative"}}},
              {"mark": {"type": "tick", "orient": "horizontal", "color": "#000", "size": 4, "thickness": 1}, "encoding": {"y": {"field": "hi", "type": "quantitative"}}}
            ]
          }
        }
      ]
    }
  ],
  "config": {
    "font": "DejaVu Sans",
    "view": {"fill": "#EAEAF2", "stroke": null},
    "axis": {"domain": false, "ticks": false, "labelColor": "#262626", "titleColor": "#262626", "titleFontWeight": "normal", "gridColor": "white", "gridWidth": 1},
    "axisX": {"labelAngle": 0, "labelFontSize": 12, "labelPadding": 1},
    "axisY": {"labelFontSize": 12, "labelPadding": 5, "titleFontSize": 17, "titlePadding": 5, "grid": true, "tickCount": 5},
    "header": {"labelFontSize": 13, "labelColor": "#262626", "labelPadding": 4, "titleFontSize": 18, "titleFontWeight": "normal", "titleColor": "#262626", "titlePadding": -9},
    "legend": {"orient": "none", "legendX": 144, "legendY": 796, "direction": "horizontal", "columns": 3, "symbolType": "M-1.5,-0.5H1.5V0.5H-1.5Z", "symbolSize": 324, "symbolStrokeWidth": 0, "symbolOpacity": 1, "labelFontSize": 14, "labelColor": "#262626", "labelOffset": 10, "columnPadding": 32, "rowPadding": 5}
  }
}
